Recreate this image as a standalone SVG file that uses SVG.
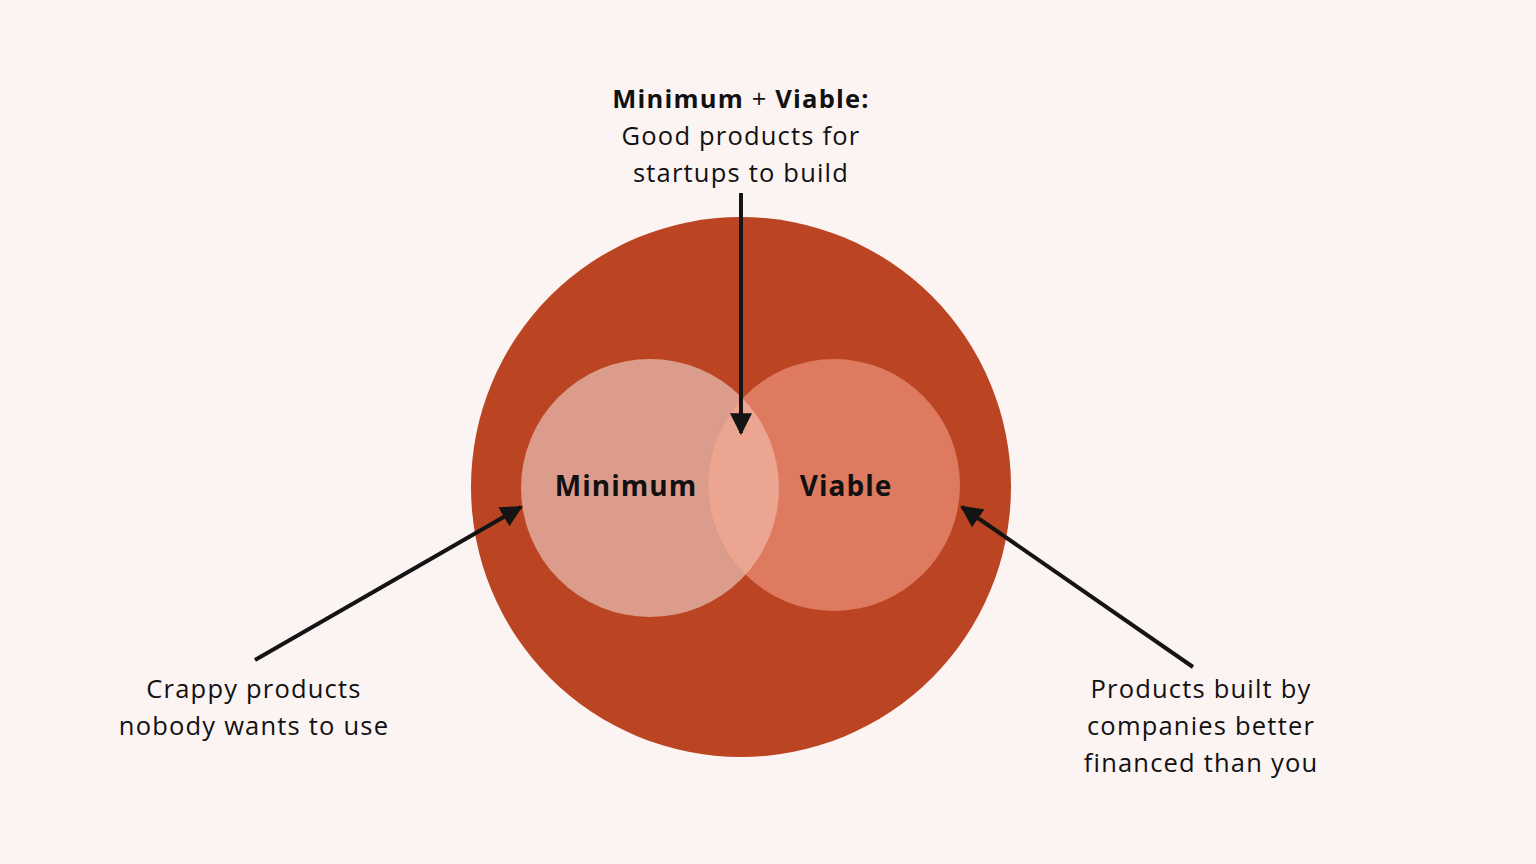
<svg xmlns="http://www.w3.org/2000/svg" width="1536" height="864" viewBox="0 0 1536 864">
<defs>
<marker id="ah" viewBox="0 0 10 10" refX="9" refY="5" markerWidth="5.5" markerHeight="5.5" markerUnits="strokeWidth" orient="auto">
<path d="M0,0 L10,5 L0,10 Z" fill="#141414"/>
</marker>
</defs>
<style>
.t{font-family:"Open Sans","Liberation Sans",sans-serif;font-size:25.5px;fill:#111;letter-spacing:1.2px;text-anchor:middle}
.b{font-weight:bold}
.lbl{font-family:"Open Sans","Liberation Sans",sans-serif;font-size:28px;font-weight:bold;fill:#111;letter-spacing:1px;text-anchor:middle}
.c{fill:none;stroke:#141414;stroke-width:4}
</style>
<rect width="1536" height="864" fill="#FCF3F3"/>
<g id="outer"><circle cx="741" cy="487" r="270" fill="#BB4522"/></g>
<g id="minimum">
<circle cx="650" cy="488" r="129" fill="#DC9C8B"/>
<text class="lbl" x="626" y="496">Minimum</text>
</g>
<g id="viable">
<circle cx="834" cy="485" r="126" fill="#DD7A5F"/>
<text class="lbl" x="846" y="496">Viable</text>
</g>
<g id="overlap">
<clipPath id="cl"><circle cx="650" cy="488" r="129"/></clipPath>
<circle cx="834" cy="485" r="126" fill="#EBA591" clip-path="url(#cl)"/>
</g>
<g id="top-note">
<text class="t" x="741" y="108"><tspan class="b">Minimum</tspan> + <tspan class="b">Viable:</tspan></text>
<text class="t" x="741" y="145">Good products for</text>
<text class="t" x="741" y="182">startups to build</text>
</g>
<g id="left-note">
<text class="t" x="254" y="698">Crappy products</text>
<text class="t" x="254" y="735">nobody wants to use</text>
</g>
<g id="right-note">
<text class="t" x="1201" y="698">Products built by</text>
<text class="t" x="1201" y="735">companies better</text>
<text class="t" x="1201" y="772">financed than you</text>
</g>
<g id="connectors">
<line class="c" x1="741" y1="193" x2="741" y2="433" marker-end="url(#ah)"/>
<line class="c" x1="255" y1="660" x2="521" y2="507" stroke-width="3.5" marker-end="url(#ah)"/>
<line class="c" x1="1193" y1="667" x2="962" y2="507" stroke-width="3.5" marker-end="url(#ah)"/>
</g>
</svg>
